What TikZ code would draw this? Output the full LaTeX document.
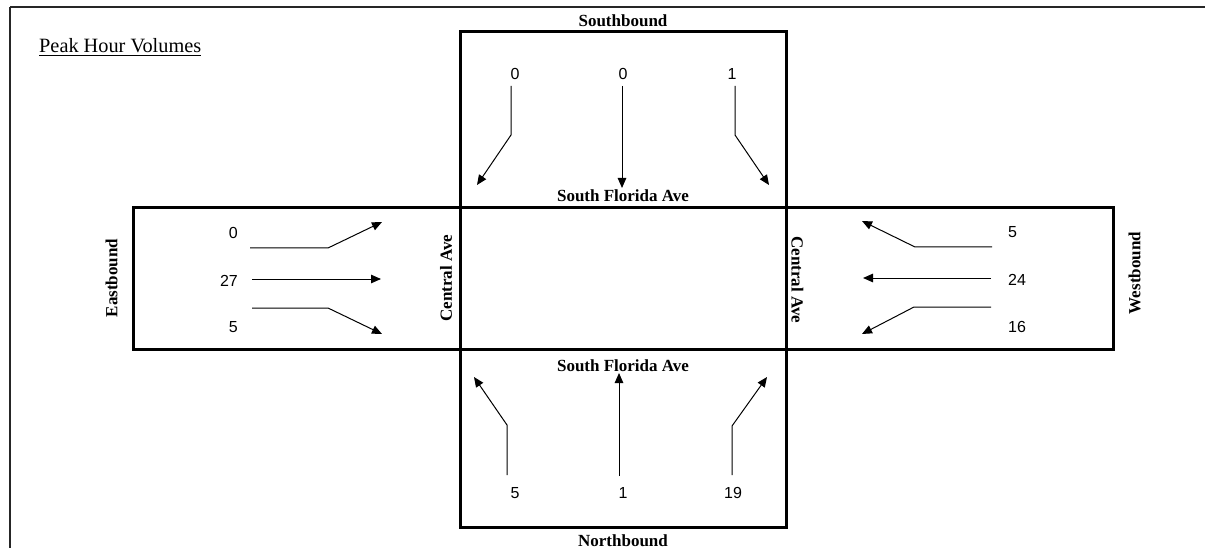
\documentclass[tikz,border=0pt]{standalone}
\usepackage{fontspec}
\setmainfont{Liberation Serif}
\newfontfamily\arialf{Liberation Sans}
\usetikzlibrary{arrows.meta}
\begin{document}
\begin{tikzpicture}[x=1pt,y=-1pt,
  frame/.style={line width=2pt,black!85},
  roadbox/.style={line width=3pt,black},
  mv/.style={line width=1pt,-{Triangle[length=10pt,width=8.5pt]}},
  vol/.style={font=\arialf\fontsize{16}{16}\selectfont,inner sep=0pt},
  roadlbl/.style={font=\bfseries\fontsize{17}{17}\selectfont,inner sep=0pt},
  titlelbl/.style={font=\fontsize{20.3}{20.3}\selectfont,inner sep=0pt}]
\useasboundingbox (0,0) rectangle (1205,548);
% outer frame (top and left only)
\draw[frame] (10,7) -- (1205,7);
\draw[frame] (10,7) -- (10,548);
% road boxes
\draw[roadbox] (133,208) rectangle (1113,349);
\draw[roadbox] (460,32) rectangle (786,527);
% title
\node[titlelbl,anchor=base west] (title) at (39,53) {\underline{Peak Hour Volumes}};
% road labels
\node[roadlbl,anchor=base] (sb) at (623,27) {Southbound};
\node[roadlbl,anchor=base] (sfa1) at (623,202) {South Florida Ave};
\node[roadlbl,anchor=base] (sfa2) at (623,371) {South Florida Ave};
\node[roadlbl,anchor=base] (nb) at (623,546) {Northbound};
\node[roadlbl,rotate=90] (eb) at (111.5,278) {Eastbound};
\node[roadlbl,rotate=90] (ca1) at (446,278) {Central Ave};
\node[roadlbl,rotate=-90] (ca2) at (797.5,280) {Central Ave};
\node[roadlbl,rotate=90] (wb) at (1134.5,273) {Westbound};
% volumes - southbound
\node[vol,anchor=base] (sbl) at (515,80) {0};
\node[vol,anchor=base] (sbt) at (623,80) {0};
\node[vol,anchor=base] (sbr) at (732,80) {1};
% eastbound
\node[vol,anchor=base east] (ebl) at (238,239) {0};
\node[vol,anchor=base east] (ebt) at (238,286) {27};
\node[vol,anchor=base east] (ebr) at (238,332) {5};
% westbound
\node[vol,anchor=base west] (wbr) at (1008,238) {5};
\node[vol,anchor=base west] (wbt) at (1008,285) {24};
\node[vol,anchor=base west] (wbl) at (1008,332) {16};
% northbound
\node[vol,anchor=base] (nbl) at (515,498) {5};
\node[vol,anchor=base] (nbt) at (623,498) {1};
\node[vol,anchor=base] (nbr) at (733,498) {19};
% coordinates for movements
% southbound
\coordinate (sblA) at (511,86); \coordinate (sblB) at (511,135); \coordinate (sblC) at (477,185);
\coordinate (sbtA) at (622,86); \coordinate (sbtC) at (622,188);
\coordinate (sbrA) at (735,86); \coordinate (sbrB) at (735,135); \coordinate (sbrC) at (769,185);
% eastbound
\coordinate (eblA) at (250,248); \coordinate (eblB) at (328,248); \coordinate (eblC) at (382,222);
\coordinate (ebtA) at (252,279); \coordinate (ebtC) at (381,279);
\coordinate (ebrA) at (252,308); \coordinate (ebrB) at (328,308); \coordinate (ebrC) at (382,334);
% westbound
\coordinate (wbrA) at (992,247); \coordinate (wbrB) at (915,247); \coordinate (wbrC) at (862,221);
\coordinate (wbtA) at (991,278); \coordinate (wbtC) at (863,278);
\coordinate (wblA) at (991,307); \coordinate (wblB) at (914,307); \coordinate (wblC) at (862,334);
% northbound
\coordinate (nblA) at (507,475); \coordinate (nblB) at (507,425); \coordinate (nblC) at (474,377);
\coordinate (nbtA) at (619,476); \coordinate (nbtC) at (619,373);
\coordinate (nbrA) at (732,475); \coordinate (nbrB) at (732,426); \coordinate (nbrC) at (767,377);
% draw movements
\draw[mv] (sblA) -- (sblB) -- (sblC);
\draw[mv] (sbtA) -- (sbtC);
\draw[mv] (sbrA) -- (sbrB) -- (sbrC);
\draw[mv] (eblA) -- (eblB) -- (eblC);
\draw[mv] (ebtA) -- (ebtC);
\draw[mv] (ebrA) -- (ebrB) -- (ebrC);
\draw[mv] (wbrA) -- (wbrB) -- (wbrC);
\draw[mv] (wbtA) -- (wbtC);
\draw[mv] (wblA) -- (wblB) -- (wblC);
\draw[mv] (nblA) -- (nblB) -- (nblC);
\draw[mv] (nbtA) -- (nbtC);
\draw[mv] (nbrA) -- (nbrB) -- (nbrC);
\end{tikzpicture}
\end{document}
